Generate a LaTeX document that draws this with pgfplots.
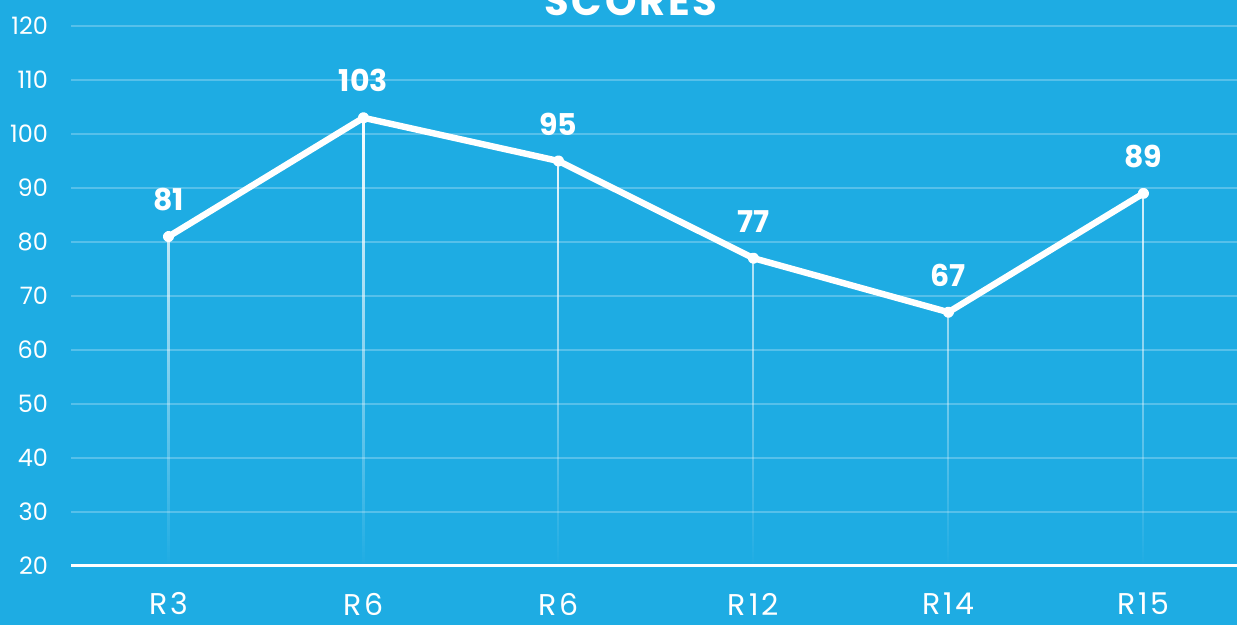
\documentclass[border=0pt]{standalone}
\usepackage{pgfplots}
\pgfplotsset{compat=1.18}
\usepackage{fontspec}
\setmainfont{Poppins}
\usetikzlibrary{fadings}
\definecolor{bg}{HTML}{1EACE3}
\tikzfading[name=dropfade, top color=transparent!0, middle color=transparent!15, bottom color=transparent!100]
\begin{document}
\begin{tikzpicture}[x=1pt,y=1pt]
\fill[bg] (0,0) rectangle (618.5,312.5);
\useasboundingbox (0,0) rectangle (618.5,312.5);
\node[white, font=\bfseries\fontsize{20}{20}\selectfont\addfontfeatures{LetterSpace=7}, anchor=base] at (315.5,304.5) {SCORES};
\begin{axis}[
  at={(35.5pt,29.5pt)}, anchor=south west,
  scale only axis, width=583pt, height=270pt,
  xmin=-0.5, xmax=5.48, ymin=20, ymax=120,
  ytick={20,30,...,120},
  xtick={0,...,5},
  xticklabels={R3,R6,R6,R12,R14,R15},
  axis x line*=bottom, axis y line*=left,
  x axis line style={white, line width=1.5pt, -},
  y axis line style={draw=none},
  major tick length=0pt,
  ymajorgrids,
  grid style={white, opacity=0.25, line width=1pt},
  tick label style={white},
  /pgf/number format/assume math mode=true,
  yticklabel style={font=\fontsize{12}{12}\selectfont, anchor=east, xshift=-8pt},
  xticklabel style={font=\fontsize{15}{15}\selectfont\addfontfeatures{LetterSpace=10}, anchor=center, yshift=-19pt},
  clip=false,
]
\addplot[ycomb, white, line width=1.1pt, mark=none, path fading=dropfade] coordinates {(0,81) (1,103) (2,95) (3,77) (4,67) (5,89)};
\addplot[white, line width=3.2pt, line join=round, line cap=round, mark=*, mark size=1.2pt,
  nodes near coords,
  every node near coord/.append style={white, anchor=center, yshift=18.5pt, font=\bfseries\fontsize{15}{15}\selectfont}]
  coordinates {(0,81) (1,103) (2,95) (3,77) (4,67) (5,89)};
\end{axis}
\end{tikzpicture}
\end{document}
